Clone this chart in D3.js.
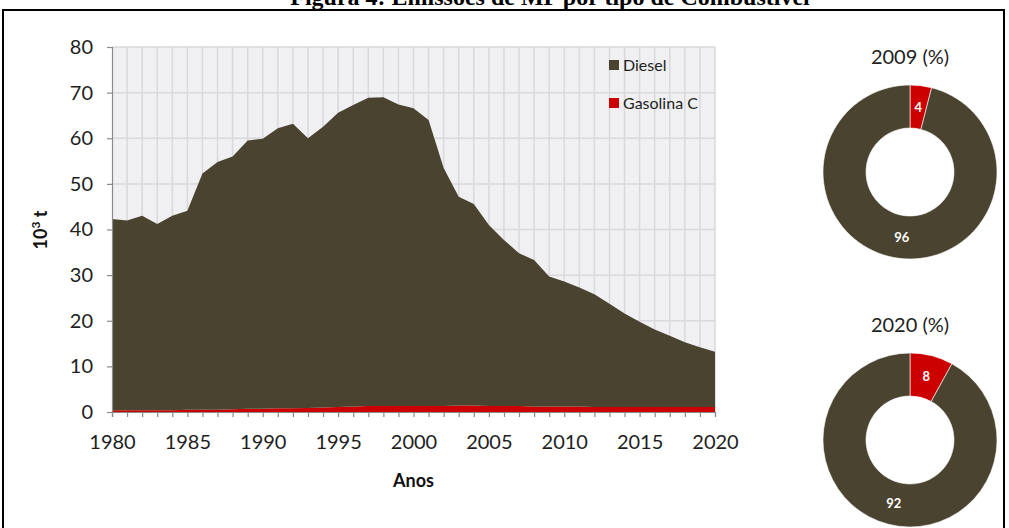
<!DOCTYPE html>
<html>
<head>
<meta charset="utf-8">
<script src="https://cdn.jsdelivr.net/npm/d3@7"></script>
<style>
  html, body { margin: 0; padding: 0; background: #fff; }
  svg { display: block; }
  text { font-family: Lato, "Open Sans", sans-serif; }
</style>
</head>
<body>
<svg id="chart" width="1009" height="528"></svg>
<script>
// Emissões de MP (10³ t) por combustível, 1980–2020
const years = d3.range(1980, 2021);
const gasolina = [0.4, 0.4, 0.4, 0.4, 0.4, 0.5, 0.5, 0.5, 0.6, 0.7,
                  0.7, 0.8, 0.8, 0.9, 1.0, 1.1, 1.2, 1.3, 1.3, 1.3,
                  1.3, 1.3, 1.3, 1.4, 1.4, 1.3, 1.3, 1.3, 1.2, 1.2,
                  1.2, 1.2, 1.1, 1.1, 1.1, 1.1, 1.1, 1.1, 1.1, 1.1, 1.1];
const diesel = [41.9, 41.6, 42.6, 40.8, 42.6, 43.6, 51.8, 54.3, 55.4, 58.8,
                59.2, 61.4, 62.4, 59.1, 61.5, 64.5, 66.1, 67.6, 67.7, 66.1,
                65.3, 62.7, 52.2, 45.8, 44.2, 39.7, 36.4, 33.5, 32.1, 28.5,
                27.4, 26.1, 24.7, 22.6, 20.5, 18.7, 17.0, 15.6, 14.2, 13.1, 12.1];
const yTicks = [0, 10, 20, 30, 40, 50, 60, 70, 80];
const xTicks = [1980, 1985, 1990, 1995, 2000, 2005, 2010, 2015, 2020];
const seriesNames = ["Diesel", "Gasolina C"];

// Participação percentual por combustível
const donutTitles = ["2009 (%)", "2020 (%)"];
const donutGasolina = [4, 8];
const donutDiesel = [96, 92];

const colDiesel = "#4a432f";
const colGas = "#cc0000";

const svg = d3.select("#chart");

// Page frame and figure caption
svg.append("rect")
  .attr("x", 3).attr("y", 10).attr("width", 1001).attr("height", 540)
  .attr("fill", "none").attr("stroke", "#000").attr("stroke-width", 2);
svg.append("text")
  .attr("x", 550).attr("y", 5)
  .attr("text-anchor", "middle")
  .style("font-family", "'Liberation Serif', serif")
  .style("font-weight", "bold").style("font-size", "24px")
  .text("Figura 4: Emissões de MP por tipo de Combustível");

const x = d3.scaleLinear().domain([1980, 2020]).range([112, 715]);
const y = d3.scaleLinear().domain([0, 80]).range([412, 47]);

// Plot background
svg.append("rect")
  .attr("x", x(1980)).attr("y", y(80))
  .attr("width", x(2020) - x(1980)).attr("height", y(0) - y(80))
  .attr("fill", "#f0f0f2");

// Grid
svg.append("g").selectAll("line").data(years.slice(1))
  .join("line")
  .attr("x1", d => x(d)).attr("x2", d => x(d))
  .attr("y1", y(80)).attr("y2", y(0))
  .attr("stroke", "#d9d9db").attr("stroke-width", 1.5);
svg.append("g").selectAll("line").data(yTicks.slice(1))
  .join("line")
  .attr("x1", x(1980)).attr("x2", x(2020))
  .attr("y1", d => y(d)).attr("y2", d => y(d))
  .attr("stroke", "#d9d9db").attr("stroke-width", 1.5);

// Stacked areas
const rows = years.map((yr, i) => ({ year: yr, "Gasolina C": gasolina[i], "Diesel": diesel[i] }));
const stack = d3.stack().keys(["Gasolina C", "Diesel"]);
const layers = stack(rows);
const area = d3.area()
  .x(d => x(d.data.year))
  .y0(d => y(d[0]))
  .y1(d => y(d[1]));
svg.append("g").selectAll("path").data(layers)
  .join("path")
  .attr("d", area)
  .attr("fill", d => d.key === "Diesel" ? colDiesel : colGas);

// Axes
const yAxis = svg.append("g")
  .attr("transform", `translate(${x(1980)},0)`)
  .call(d3.axisLeft(y).tickValues(yTicks).tickSize(5).tickPadding(14));
const xAxis = svg.append("g")
  .attr("transform", `translate(0,${y(0)})`)
  .call(d3.axisBottom(x).tickValues(years).tickSize(5).tickPadding(18)
    .tickFormat(d => xTicks.includes(d) ? d : ""));
[yAxis, xAxis].forEach(g => {
  g.select(".domain").attr("stroke", "#8a8a8a").attr("stroke-width", 1.2);
  g.selectAll(".tick line").attr("stroke", "#8a8a8a").attr("stroke-width", 1.2);
  g.selectAll(".tick text")
    .attr("fill", "#1e1e1e")
    .style("font-family", "Lato, sans-serif")
    .style("font-size", "20px");
});

// Axis titles
svg.append("text")
  .attr("x", x(2000)).attr("y", 487)
  .attr("text-anchor", "middle")
  .style("font-weight", "bold").style("font-size", "18px")
  .attr("fill", "#111")
  .text("Anos");
const yt = svg.append("text")
  .attr("transform", "translate(47,230) rotate(-90)")
  .attr("text-anchor", "middle")
  .style("font-weight", "bold").style("font-size", "18px")
  .attr("fill", "#111");
yt.append("tspan").text("10");
yt.append("tspan").attr("dy", -7).style("font-size", "12px").text("3");
yt.append("tspan").attr("dy", 7).text(" t");

// Legend
const legend = svg.append("g").attr("transform", "translate(609,60)");
seriesNames.forEach((name, i) => {
  const g = legend.append("g").attr("transform", `translate(0,${i * 38})`);
  g.append("rect").attr("width", 10).attr("height", 10)
    .attr("fill", name === "Diesel" ? colDiesel : colGas);
  g.append("text").attr("x", 14).attr("y", 10.5)
    .style("font-size", "16px").attr("fill", "#222").text(name);
});

// Donuts
const pie = d3.pie().sort(null);
const arc = d3.arc().innerRadius(44).outerRadius(87);
const donutCenters = [[910, 172], [910, 440]];
donutTitles.forEach((title, k) => {
  const [cx, cy] = donutCenters[k];
  const g = svg.append("g").attr("transform", `translate(${cx},${cy})`);
  const vals = [donutGasolina[k], donutDiesel[k]];
  const arcs = pie(vals);
  g.selectAll("path").data(arcs).join("path")
    .attr("d", arc)
    .attr("fill", (d, i) => i === 0 ? colGas : colDiesel)
    .attr("stroke", "#fff").attr("stroke-width", 0.6);
  g.selectAll("text.lbl").data(arcs).join("text")
    .attr("class", "lbl")
    .attr("transform", d => `translate(${arc.centroid(d)})`)
    .attr("text-anchor", "middle").attr("dy", "0.35em")
    .style("font-size", "13px").style("font-weight", "bold")
    .attr("fill", "#fff")
    .text(d => d.data);
  svg.append("text")
    .attr("x", cx).attr("y", cy - 108)
    .attr("text-anchor", "middle")
    .style("font-size", "20px").attr("fill", "#222")
    .text(title);
});
</script>
</body>
</html>
